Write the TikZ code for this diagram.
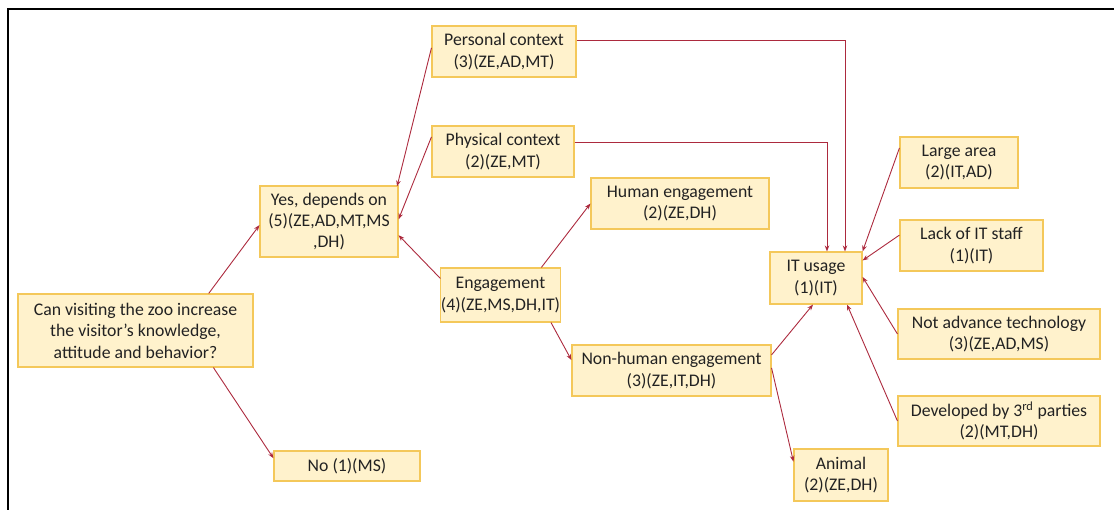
\documentclass[tikz,border=0pt]{standalone}
\usepackage{fontspec}
\setmainfont{Carlito}
\usetikzlibrary{arrows.meta,calc}

\definecolor{boxfill}{RGB}{255,242,204}
\definecolor{boxline}{RGB}{244,200,90}
\definecolor{linkred}{RGB}{172,42,62}
\definecolor{inktext}{RGB}{34,34,34}

\tikzset{
  box/.style={draw=boxline, line width=1.1bp, fill=boxfill, rectangle,
    inner sep=0pt, align=center, text=inktext,
    font=\fontsize{17.8}{21.5}\selectfont},
  link/.style={draw=linkred, line width=0.9bp,
    -{Stealth[length=6bp,width=4.5bp]}}
}

\begin{document}
\begin{tikzpicture}[x=1bp,y=-1bp]
\useasboundingbox (0,0) rectangle (1114,510);

% frame on the top and left
\draw[line width=2.4bp, line cap=rect] (8,512) -- (8,9) -- (1116,9);

% boxes
\node[box, minimum width=235bp, minimum height=73bp] (can)  at (135.5,330.5)
  {Can visiting the zoo increase\\the visitor’s knowledge,\\attitude and behavior?};
\node[box, minimum width=138bp, minimum height=71bp] (yes)  at (329,221.5)
  {Yes, depends on\\(5)(ZE,AD,MT,MS\\,DH)};
\node[box, minimum width=146bp, minimum height=30bp] (no)   at (347,466)
  {No (1)(MS)};
\node[box, minimum width=144bp, minimum height=51bp] (pers) at (504,51.5)
  {Personal context\\(3)(ZE,AD,MT)};
\node[box, minimum width=142bp, minimum height=51bp] (phys) at (503,151.5)
  {Physical context\\(2)(ZE,MT)};
\node[box, minimum width=111bp, minimum height=54bp] (eng)  at (500.5,295)
  {Engagement\\(4)(ZE,MS,DH,IT)};
\node[box, minimum width=178bp, minimum height=51bp] (human) at (680,203.5)
  {Human engagement\\(2)(ZE,DH)};
\node[box, minimum width=199bp, minimum height=51bp] (nonh) at (671.5,370.5)
  {Non-human engagement\\(3)(ZE,IT,DH)};
\node[box, minimum width=94bp, minimum height=52bp] (animal) at (841,475)
  {Animal\\(2)(ZE,DH)};
\node[box, minimum width=92bp, minimum height=52bp] (itu)  at (816,278)
  {IT usage\\(1)(IT)};
\node[box, minimum width=118bp, minimum height=51bp] (large) at (959,162.5)
  {Large area\\(2)(IT,AD)};
\node[box, minimum width=143bp, minimum height=51bp] (lack) at (971.5,245.5)
  {Lack of IT staff\\(1)(IT)};
\node[box, minimum width=202bp, minimum height=50bp] (notadv) at (999,334)
  {Not advance technology\\(3)(ZE,AD,MS)};
\node[box, minimum width=202bp, minimum height=50bp] (dev)  at (999,421)
  {Developed by 3\textsuperscript{rd} parties\\(2)(MT,DH)};

% question branches
\draw[link] ($(can.north west)!0.81!(can.north east)$) -- ($(yes.north west)!0.55!(yes.south west)$);
\draw[link] ($(can.south west)!0.83!(can.south east)$) -- ($(no.north west)!0.25!(no.south west)$);

% factors feeding "Yes, depends on"
\draw[link] ($(pers.north west)!0.43!(pers.south west)$) -- ([xshift=-1.5bp,yshift=-1bp]yes.north east);
\draw[link] ($(phys.north west)!0.22!(phys.south west)$) -- ($(yes.north east)!0.47!(yes.south east)$);
\draw[link] ($(eng.north west)!0.2!(eng.south west)$) -- ($(yes.north east)!0.69!(yes.south east)$);

% engagement split
\draw[link] ($(eng.north west)!0.84!(eng.north east)$) -- ($(human.north west)!0.5!(human.south west)$);
\draw[link] ($(eng.south west)!0.92!(eng.south east)$) -- ($(nonh.north west)!0.3!(nonh.south west)$);
\draw[link] ($(nonh.north east)!0.2!(nonh.south east)$) -- ([xshift=-3bp]itu.south);
\draw[link] ($(nonh.north east)!0.45!(nonh.south east)$) -- ($(animal.north west)!0.25!(animal.south west)$);

% contexts routed to IT usage
\draw[link] ($(pers.north east)!0.28!(pers.south east)$) -| ([xshift=29bp]itu.north);
\draw[link] ($(phys.north east)!0.33!(phys.south east)$) -| ([xshift=11bp]itu.north);

% barriers pointing at IT usage
\draw[link] ($(large.north west)!0.22!(large.south west)$) -- (itu.north east);
\draw[link] ($(lack.north west)!0.3!(lack.south west)$) -- ($(itu.north east)!0.17!(itu.south east)$);
\draw[link] (notadv.west) -- ($(itu.north east)!0.48!(itu.south east)$);
\draw[link] (dev.west) -- ([xshift=31bp]itu.south);
\end{tikzpicture}
\end{document}
